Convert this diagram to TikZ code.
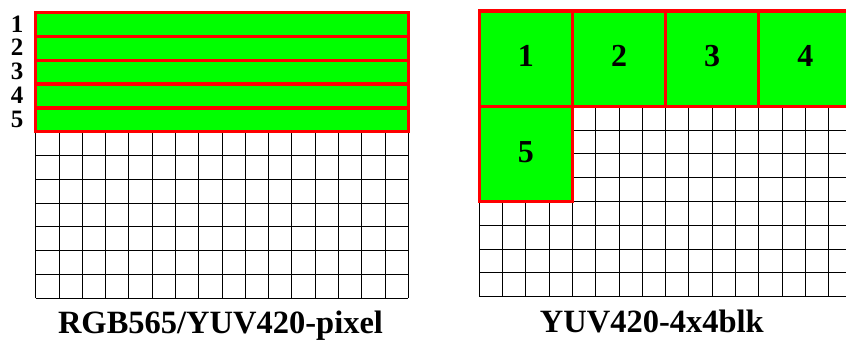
\documentclass[tikz,border=0pt]{standalone}
\usepackage{fontspec}
\setmainfont{Liberation Serif}
\begin{document}
\begin{tikzpicture}[x=1pt,y=-1pt,
  gridline/.style={line width=0.9pt, draw=black},
  blk/.style={draw=red, fill=green, line width=3.4pt},
  lnum/.style={font=\fontsize{25}{25}\selectfont\bfseries, anchor=base, inner sep=0pt},
  bnum/.style={font=\fontsize{32}{32}\selectfont\bfseries, anchor=base, inner sep=0pt},
  title/.style={font=\fontsize{32.5}{32.5}\selectfont\bfseries, anchor=base, inner sep=0pt}]
\useasboundingbox (0,0) rectangle (846,340);
\clip (0,0) rectangle (846,340);
\def\cw{23.29}
\def\rh{23.8}
% ---------- left: pixel rows ----------
\begin{scope}[shift={(35.7,12.7)}]
  \foreach \i in {0,...,16} \draw[gridline] (\i*\cw,0) -- (\i*\cw,12*\rh);
  \foreach \j in {0,...,12} \draw[gridline] (0,\j*\rh) -- (16*\cw,\j*\rh);
  \foreach \k in {0,...,4}
    \path[blk] (0,\k*\rh) rectangle (16*\cw,\k*\rh+\rh);
  \foreach \k/\t in {0/1,1/2,2/3,3/4,4/5}
    \node[lnum] (l\t) at (-18.7,\k*\rh+0.5*\rh+7.5) {\t};
  \node[title] (tleft) at (8*\cw-1.5,320.3) {RGB565/YUV420-pixel};
\end{scope}
% ---------- right: 4x4 blocks ----------
\begin{scope}[shift={(479.3,11)}]
  \foreach \i in {0,...,16} \draw[gridline] (\i*\cw,0) -- (\i*\cw,12*\rh);
  \foreach \j in {0,...,12} \draw[gridline] (0,\j*\rh) -- (16*\cw,\j*\rh);
  \foreach \k in {0,...,3}
    \path[blk] (4*\k*\cw,0) rectangle (4*\k*\cw+4*\cw,4*\rh);
  \path[blk] (0,4*\rh) rectangle (4*\cw,8*\rh);
  \foreach \k/\t in {0/1,1/2,2/3,3/4}
    \node[bnum] (b\t) at (4*\k*\cw+2*\cw,2*\rh+7.5) {\t};
  \node[bnum] (b5) at (2*\cw,6*\rh+9) {5};
  \node[title] (tright) at (8*\cw-13.8,321) {YUV420-4x4blk};
\end{scope}
\end{tikzpicture}
\end{document}
